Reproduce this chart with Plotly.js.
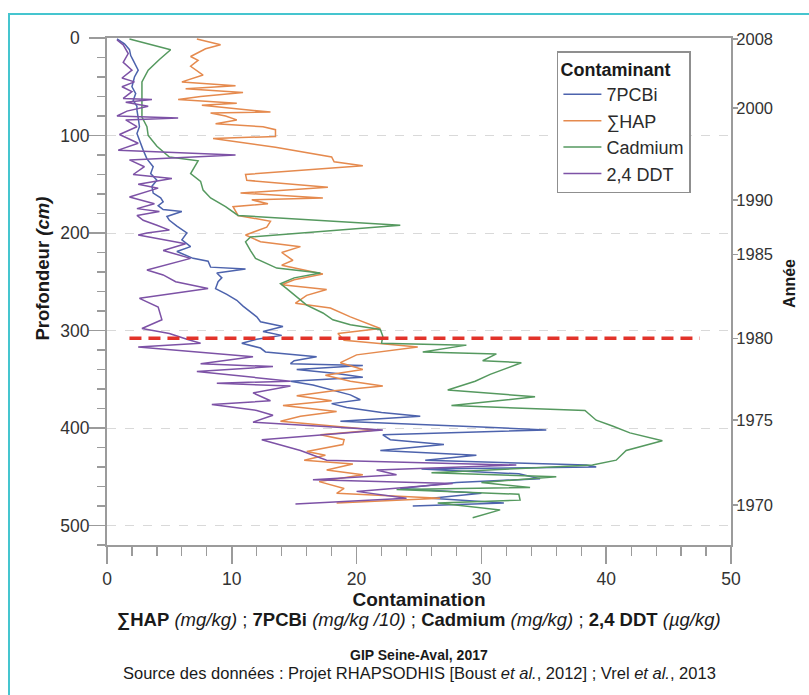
<!DOCTYPE html>
<html>
<head>
<meta charset="utf-8">
<script src="https://cdn.plot.ly/plotly-3.0.1.min.js"></script>
<style>
  html, body { margin: 0; padding: 0; background: #fff; }
  #wrap { position: relative; width: 809px; height: 695px; overflow: hidden; }
  #chart { position: absolute; left: 0; top: 0; width: 809px; height: 695px; }
  #frame { position: absolute; left: 8px; top: 13px; width: 900px; height: 800px;
           border-left: 2px solid #45c5cf; border-top: 2px solid #45c5cf; pointer-events: none; }
</style>
</head>
<body>
<div id="wrap"><div id="chart"></div><div id="frame"></div></div>
<script>
// ---- Data (depth in cm, contamination values) ----
const pcbDepth = [1,6,12,18,23,28,33,40,50,57,64,70,74,82,91,98,105,110,115,124,132,139,146,152,159,164,168,172,176,178,183,187,193,200,207,214,219,226,229,235,237,241,246,250,257,263,269,275,281,286,291,296,301,305,309,313,318,322,327,331,334,336,340,344,348,352,356,360,366,371,375,379,384,388,393,399,402,407,412,417,423,428,433,438,440,442,447,452,456,462,467,472,477,480];
const pcbValues = [0.8,1.4,1.8,1.9,2.1,2.3,2.5,2.2,2.0,2.3,2.1,2.4,2.4,2.5,2.6,2.4,2.6,2.7,2.9,3.2,3.7,3.5,4.0,3.6,3.7,4.3,4.5,4.1,4.5,6.0,4.8,5.0,5.6,6.4,6.0,6.7,5.6,6.9,8.1,8.3,11.1,8.8,9.2,8.9,8.7,9.6,10.4,10.9,11.5,12.0,12.3,14.1,12.5,14.0,12.0,10.8,12.3,12.7,16.8,15.0,14.7,20.5,15.2,18.4,20.5,14.7,16.5,17.8,19.5,20.3,18.0,19.2,22.0,25.1,18.7,30.0,35.2,22.1,22.7,27.0,21.9,29.6,25.5,38.4,39.2,25.2,33.0,34.7,28.0,23.5,30.0,26.0,31.8,24.5];

const hapDepth = [1,7,11,19,23,29,38,45,49,52,56,60,63,67,69,76,77,80,84,88,91,94,101,103,112,122,127,131,140,146,153,159,164,166,170,173,182,188,194,202,209,214,220,228,233,242,248,253,258,264,272,277,286,298,303,310,317,325,333,340,346,352,357,362,367,372,377,383,388,393,402,407,412,417,424,428,433,437,443,448,455,462,467,472,477];
const hapValues = [7.2,9.1,7.9,6.7,7.3,6.7,7.7,6.0,10.3,6.3,10.9,7.5,5.7,10.4,7.6,13.1,8.3,9.5,10.4,8.7,12.5,13.5,13.5,8.5,13.5,18.0,18.2,20.5,11.1,11.2,17.7,10.7,17.3,11.6,12.9,10.1,10.5,13.1,12.8,11.1,12.3,15.5,14.0,14.9,14.0,17.3,15.0,14.0,17.6,16.0,15.1,17.9,19.5,21.9,18.5,19.0,24.9,20.0,18.7,20.5,17.5,19.5,22.1,18.0,15.2,18.0,14.1,18.4,15.5,13.9,21.6,17.1,19.0,18.9,16.0,17.5,15.8,19.7,17.6,20.5,17.0,19.0,18.4,26.7,18.4];

const cadDepth = [1,12,22,33,45,60,81,91,100,111,122,126,139,147,156,164,173,182,192,204,209,218,226,236,241,246,252,257,266,274,282,289,294,299,306,313,315,322,324,331,333,345,352,361,368,377,382,392,398,405,413,423,433,438,441,446,450,456,461,463,468,474,477,484,492];
const cadValues = [1.8,5.1,4.2,3.3,2.8,2.8,2.8,3.2,3.3,4.0,5.0,7.3,6.7,7.5,7.7,8.3,9.5,10.5,23.5,11.5,11.1,11.5,11.9,13.6,17.1,15.0,13.9,14.4,15.2,16.0,17.3,18.1,19.5,21.9,22.1,22.0,28.8,25.3,31.2,30.1,33.2,30.7,29.5,27.3,34.3,27.6,38.3,39.2,40.5,41.9,44.5,41.6,40.8,38.9,34.0,26.0,36.0,30.0,33.9,23.2,33.0,33.1,26.5,31.5,29.3];

const ddtDepth = [2,7,16,25,33,41,45,50,55,62,63,66,70,75,80,82,84,91,99,108,115,120,125,132,140,144,150,154,163,170,175,178,182,187,192,197,200,202,211,218,226,238,243,250,257,267,276,289,298,303,309,313,317,327,334,337,342,352,354,357,364,372,376,382,387,394,402,412,423,433,438,443,448,453,457,465,472,478];
const ddtValues = [0.8,1.3,1.7,1.3,2.0,1.2,2.2,1.2,2.0,1.3,3.6,1.5,3.3,1.6,0.8,5.7,1.5,2.4,1.0,2.5,0.9,10.3,1.8,3.0,2.1,5.2,2.5,4.1,1.8,3.8,2.4,4.2,2.4,2.9,4.0,5.0,3.2,2.5,6.3,4.5,6.7,3.2,4.5,5.5,8.1,2.6,4.1,4.4,2.8,5.0,6.4,7.5,2.5,11.7,7.5,13.3,7.2,14.7,8.8,14.7,11.7,13.1,8.4,12.0,13.3,11.7,22.1,12.4,15.5,17.6,32.8,21.6,23.2,16.5,27.7,20.0,24.0,15.1];

// 1980 reference line (depth cm)
const refX = [1.8, 47.5];
const refDepth = [308, 308];

// Depth axis (left) ticks
const depthTicks = [0, 100, 200, 300, 400, 500];
const depthTickLabels = ['0', '100', '200', '300', '400', '500'];

// Year axis (right)
const yearLabels = ['2008','2000','1990','1985','1980','1975','1970'];
const yearDepths = [1, 72, 166, 222, 308, 392, 479];

const seriesNames = ['7PCBi', '\u2211HAP', 'Cadmium', '2,4 DDT'];
const seriesColors = ['#4d63ad', '#e58a4e', '#55995f', '#7d52a6'];

const FONT = 'Liberation Sans, Arial, Helvetica, sans-serif';
const axisGrey = '#9b9b9b';

const dataX = [pcbValues, hapValues, cadValues, ddtValues];
const dataY = [pcbDepth, hapDepth, cadDepth, ddtDepth];

// centre-align the left tick labels (the reference centres them): pad short labels with figure spaces
const maxLen = Math.max(...depthTickLabels.map(s => s.length));
const centredDepthLabels = depthTickLabels.map(s => s + '\u2007'.repeat(Math.floor((maxLen - s.length + 1) / 2)));

const traces = seriesNames.map((n, i) => ({
  type: 'scatter', mode: 'lines', name: n,
  x: dataX[i], y: dataY[i], xaxis: 'x', yaxis: 'y',
  line: {color: seriesColors[i], width: 1.5}
}));
traces.push({
  type: 'scatter', mode: 'lines', x: refX, y: refDepth, showlegend: false,
  hoverinfo: 'skip', xaxis: 'x', yaxis: 'y2',
  line: {color: '#e2332a', width: 3.5, dash: '12px,7px'}
});

const layout = {
  width: 809, height: 695, autosize: false,
  margin: {l: 107, r: 78, t: 38, b: 150},
  paper_bgcolor: '#ffffff', plot_bgcolor: '#ffffff',
  font: {family: FONT, color: '#2b2b2b', size: 16},
  showlegend: true,
  legend: {
    x: 0.721, y: 0.974, xanchor: 'left', yanchor: 'top',
    bgcolor: '#ffffff', bordercolor: '#8f8f8f', borderwidth: 1.5,
    itemwidth: 38,
    font: {family: FONT, size: 18, color: '#2b2b2b'},
    title: {text: '<b>Contaminant</b>', font: {family: FONT, size: 18, color: '#1a1a1a'}, side: 'top'}
  },
  xaxis: {
    range: [0, 50], dtick: 10, tick0: 0,
    showline: true, linecolor: axisGrey, linewidth: 2, mirror: true,
    ticks: 'outside', ticklen: 17, tickwidth: 1.5, tickcolor: axisGrey,
    minor: {dtick: 2, ticks: 'outside', ticklen: 9, tickwidth: 1.2, tickcolor: axisGrey, showgrid: false},
    showgrid: false, zeroline: false,
    tickfont: {family: FONT, size: 17.5, color: '#333'},
    title: {text: '<b>Contamination</b>', font: {family: FONT, size: 19, color: '#1a1a1a'}, standoff: 0}
  },
  yaxis: {
    range: [520, 0], tickmode: 'array', tickvals: depthTicks, ticktext: centredDepthLabels,
    showline: true, linecolor: axisGrey, linewidth: 2, mirror: true,
    ticks: 'outside', ticklen: 16, tickwidth: 1.5, tickcolor: axisGrey,
    minor: {dtick: 20, tick0: 0, ticks: 'outside', ticklen: 8, tickwidth: 1.2, tickcolor: axisGrey, showgrid: false},
    showgrid: true, gridcolor: '#d9d9d9', griddash: 'dash', gridwidth: 1,
    zeroline: false, ticklabelstandoff: -4,
    tickfont: {family: FONT, size: 17.5, color: '#333'}
  },
  yaxis2: {
    overlaying: 'y', side: 'right', anchor: 'x',
    range: [520, 0], tickmode: 'array', tickvals: yearDepths, ticktext: yearLabels,
    showline: true, linecolor: axisGrey, linewidth: 2,
    ticks: 'outside', ticklen: 5, tickwidth: 1.5, tickcolor: axisGrey,
    ticklabelstandoff: -5,
    showgrid: false, zeroline: false,
    tickfont: {family: FONT, size: 16.5, color: '#333'}
  },
  annotations: [
    {xref: 'paper', yref: 'paper', x: -0.1035, y: 0.546, xanchor: 'center', yanchor: 'middle', showarrow: false,
     textangle: -90, text: '<b>Profondeur <i>(cm)</i></b>', font: {family: FONT, size: 18.5, color: '#1a1a1a'}},
    {xref: 'paper', yref: 'paper', x: 1.0946, y: 0.515, xanchor: 'center', yanchor: 'middle', showarrow: false,
     textangle: -90, text: '<b>Année</b>', font: {family: FONT, size: 16, color: '#1a1a1a'}},
    {xref: 'paper', yref: 'paper', x: 0.5, y: -0.148, xanchor: 'center', yanchor: 'middle', showarrow: false,
     text: '<b>\u2211HAP</b> <i>(mg/kg)</i> ; <b>7PCBi</b> <i>(mg/kg /10)</i> ; <b>Cadmium</b> <i>(mg/kg)</i> ; <b>2,4 DDT</b> <i>(\u00b5g/kg)</i>',
     font: {family: FONT, size: 18.5, color: '#1a1a1a'}},
    {xref: 'paper', yref: 'paper', x: 0.5, y: -0.217, xanchor: 'center', yanchor: 'middle', showarrow: false,
     text: '<b>GIP Seine-Aval, 2017</b>', font: {family: FONT, size: 14, color: '#1a1a1a'}},
    {xref: 'paper', yref: 'paper', x: 0.5, y: -0.2525, xanchor: 'center', yanchor: 'middle', showarrow: false,
     text: 'Source des données : Projet RHAPSODHIS [Boust <i>et al.</i>, 2012] ; Vrel <i>et al.</i>, 2013',
     font: {family: FONT, size: 16.5, color: '#1a1a1a'}}
  ]
};

Plotly.newPlot('chart', traces, layout, {displayModeBar: false, staticPlot: true});
</script>
</body>
</html>
